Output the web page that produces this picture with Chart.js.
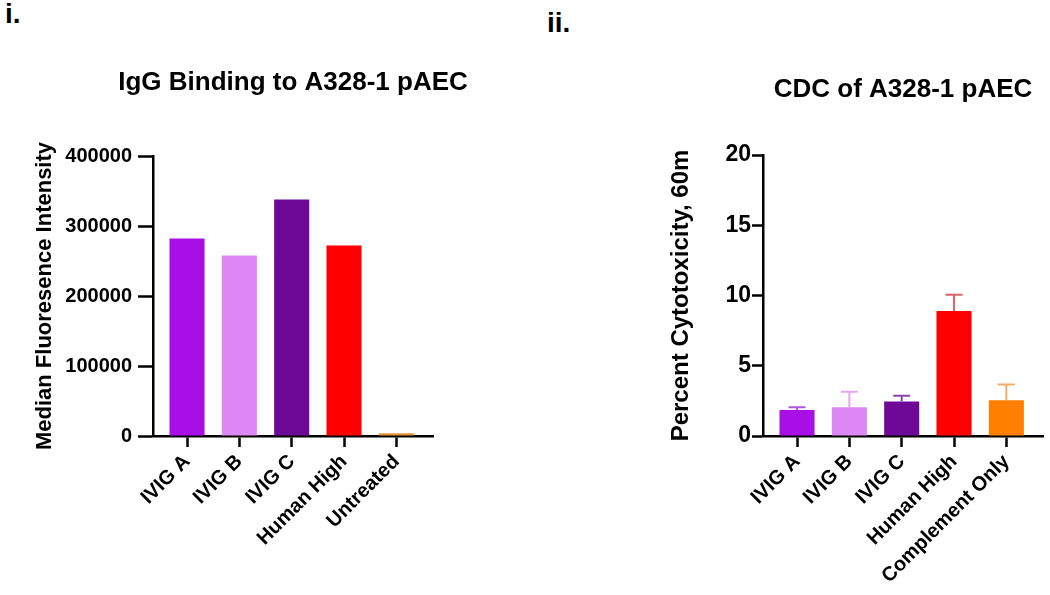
<!DOCTYPE html>
<html>
<head>
<meta charset="utf-8">
<script src="https://cdn.jsdelivr.net/npm/chart.js@4"></script>
<style>
  body { margin: 0; background: #fff; width: 1050px; height: 595px; position: relative; overflow: hidden; font-family: "Liberation Sans", Arial, sans-serif; }
  .panel { position: absolute; top: 0; height: 595px; }
  .tag { position: absolute; font-weight: bold; font-size: 28px; line-height: 1; color: #000; }
</style>
</head>
<body>
<div class="tag" style="left:5px; top:0px;">i.</div>
<div class="tag" style="left:547px; top:9px;">ii.</div>
<div class="panel" style="left:0; width:586px;"><canvas id="mfiChart" width="586" height="595"></canvas></div>
<div class="panel" style="left:540px; width:510px;"><canvas id="cdcChart" width="510" height="595"></canvas></div>
<script>
// panel i. - IgG binding
const groupsMfi = ["IVIG A", "IVIG B", "IVIG C", "Human High", "Untreated"];
const mfiValues = [282000, 258000, 338000, 272000, 4000];
const mfiTicks = [0, 100000, 200000, 300000, 400000];

// panel ii. - CDC
const groupsCdc = ["IVIG A", "IVIG B", "IVIG C", "Human High", "Complement Only"];
const cdcMeans = [1.85, 2.05, 2.45, 8.9, 2.55];
const cdcErrors = [0.2, 1.1, 0.42, 1.15, 1.12];
const cdcTicks = [0, 5, 10, 15, 20];

const barColors = ["#a90ee6", "#dd88f5", "#6e0896", "#ff0000", "#ff8000"];
const mfiColors = ["#a90ee6", "#dd88f5", "#6e0896", "#ff0000", "#e8923a"];
const errColors = ["#b455e0", "#e6a6f5", "#8a45a8", "#e0606e", "#f0b064"];

const FONT = "'Liberation Sans', Arial, sans-serif";
Chart.defaults.font.family = FONT;
Chart.defaults.color = "#000";

// draws the upper error bars (Prism style)
const errorBars = {
  id: "errorBars",
  afterDatasetsDraw(chart, args, opts) {
    if (!opts.errors) return;
    const ctx = chart.ctx;
    const xs = chart.scales.x, ys = chart.scales.y;
    ctx.save();
    ctx.lineWidth = 2;
    opts.means.forEach((m, i) => {
      const x = xs.getPixelForValue(i);
      const y0 = ys.getPixelForValue(m);
      const y1 = ys.getPixelForValue(m + opts.errors[i]);
      ctx.strokeStyle = opts.colors[i];
      ctx.beginPath();
      ctx.moveTo(x, y0);
      ctx.lineTo(x, y1);
      ctx.moveTo(x - 8.5, y1);
      ctx.lineTo(x + 8.5, y1);
      ctx.stroke();
    });
    ctx.restore();
  }
};

function makeChart(id, o) {
  return new Chart(document.getElementById(id), {
    type: "bar",
    data: {
      datasets: [{
        data: o.values.map((v, i) => ({ x: i, y: v })),
        backgroundColor: o.colors,
        barPercentage: 0.67,
        categoryPercentage: 1
      }]
    },
    options: {
      responsive: false,
      animation: false,
      layout: { padding: { left: 0, right: o.padRight, top: 0, bottom: 0 } },
      plugins: {
        legend: { display: false },
        tooltip: { enabled: false },
        title: {
          display: true,
          text: o.title,
          fullSize: o.titleFull,
          font: { size: 26, weight: "bold" },
          color: "#000",
          padding: { top: o.titleTop, bottom: o.titleBottom }
        },
        errorBars: o.err || {}
      },
      scales: {
        x: {
          type: "linear",
          offset: false,
          min: -0.65,
          max: 4.7,
          afterBuildTicks: (s) => { s.ticks = o.groups.map((g, i) => ({ value: i })); },
          afterFit: (s) => { s.height = 159; },
          border: { color: "#000", width: 2.5 },
          grid: { offset: false, drawOnChartArea: false, drawTicks: true, tickLength: 11, tickWidth: 2.5, tickColor: "#000" },
          ticks: {
            autoSkip: false,
            minRotation: 45,
            maxRotation: 45,
            padding: 3,
            font: { size: 20, weight: "bold" },
            color: "#000",
            callback: (v) => o.groups[v]
          }
        },
        y: {
          min: o.ticks[0],
          max: o.ticks[o.ticks.length - 1],
          afterBuildTicks: (s) => { s.ticks = o.ticks.map((v) => ({ value: v })); },
          afterFit: (s) => { s.width = o.yWidth; },
          border: { color: "#000", width: 2.5 },
          grid: { drawOnChartArea: false, drawTicks: true, tickLength: o.yTickLen, tickWidth: 2.5, tickColor: "#000" },
          ticks: {
            padding: o.yTickPad,
            font: { size: o.yTickSize, weight: "bold" },
            color: "#000",
            callback: (v) => String(v)
          },
          title: {
            display: true,
            text: o.yTitle,
            font: { size: o.yTitleSize, weight: "bold" },
            color: "#000",
            padding: { top: o.yTitlePad, bottom: 0 }
          }
        },
        // empty right-hand spacer so the title can centre over the plot
        yRight: {
          position: "right",
          display: o.rightSpace > 0,
          afterFit: (s) => { s.width = o.rightSpace; },
          border: { display: false },
          grid: { display: false },
          ticks: { display: false }
        }
      }
    },
    plugins: [errorBars]
  });
}

makeChart("mfiChart", {
  groups: groupsMfi, values: mfiValues, colors: mfiColors, ticks: mfiTicks,
  title: "IgG Binding to A328-1 pAEC", titleTop: 67, titleBottom: 57.8, titleFull: true,
  yTitle: "Median Fluoresence Intensity", yTitlePad: 32, yTitleSize: 22,
  yTickSize: 20, yTickLen: 15, yTickPad: 6,
  yWidth: 153, padRight: 0, rightSpace: 153
});

makeChart("cdcChart", {
  groups: groupsCdc, values: cdcMeans, colors: barColors, ticks: cdcTicks,
  title: "CDC of A328-1 pAEC", titleTop: 74, titleBottom: 49.8, titleFull: false,
  yTitle: "Percent Cytotoxicity, 60m", yTitlePad: 127, yTitleSize: 24,
  yTickSize: 23, yTickLen: 11, yTickPad: 1,
  yWidth: 223, padRight: 7, rightSpace: 0,
  err: { means: cdcMeans, errors: cdcErrors, colors: errColors }
});
</script>
</body>
</html>
